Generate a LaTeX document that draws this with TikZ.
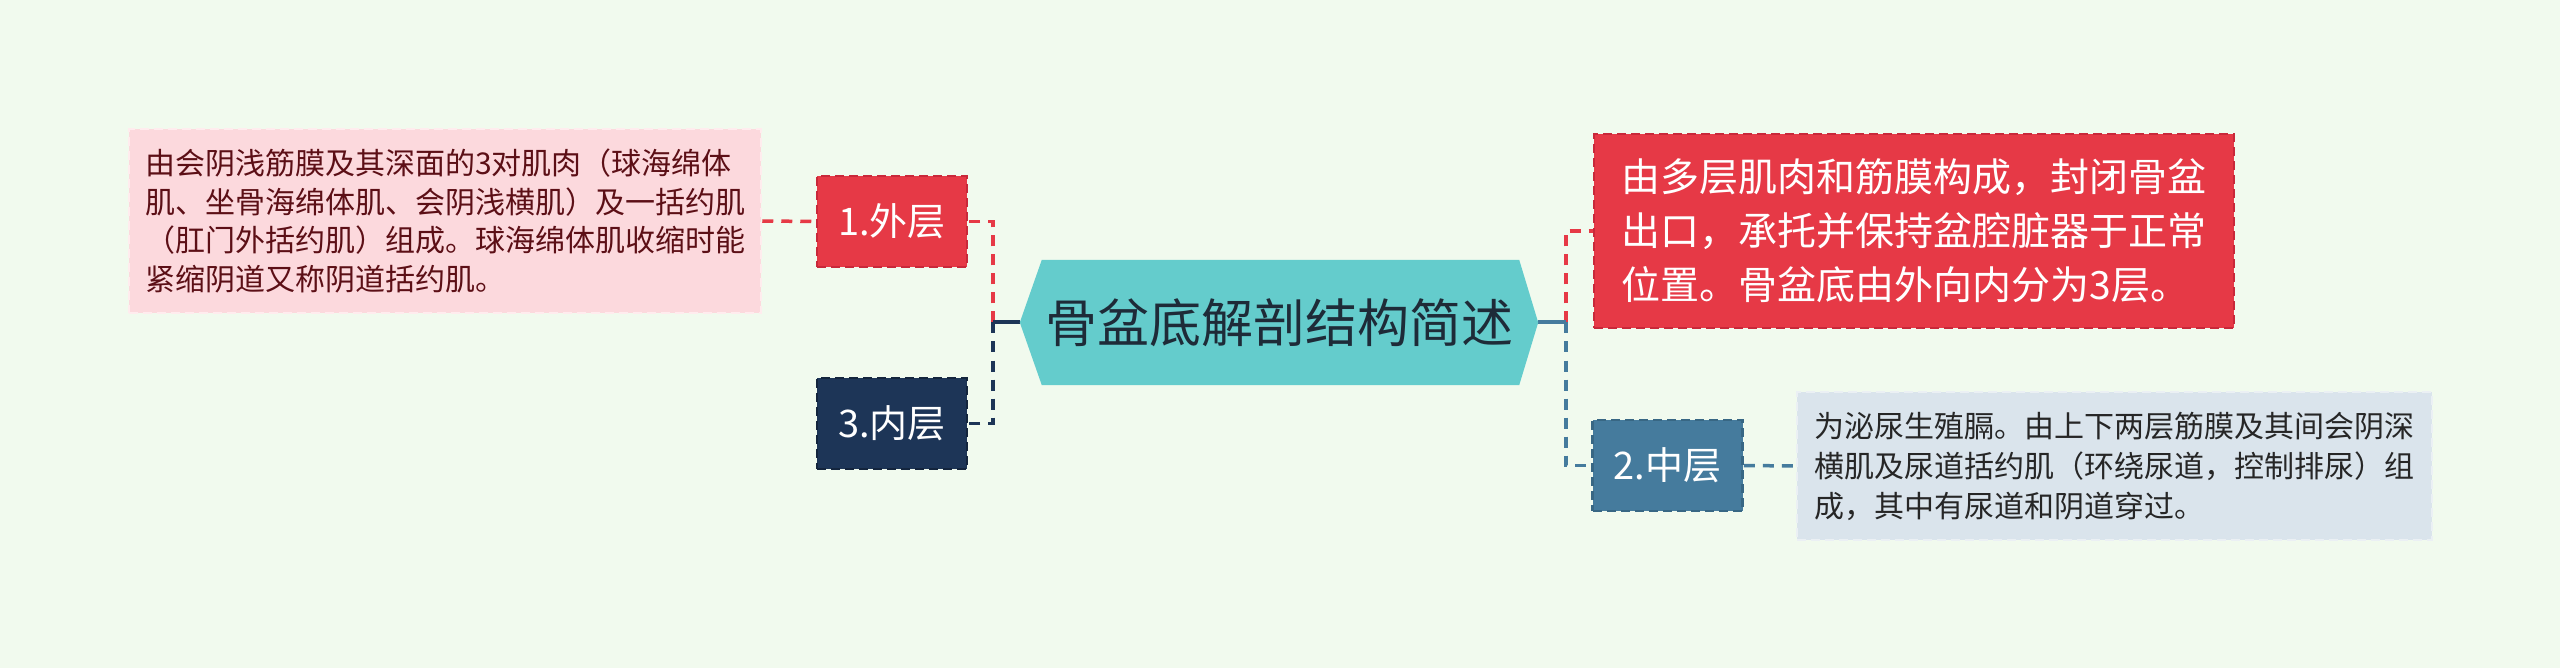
\documentclass[tikz,border=0pt]{standalone}
\usepackage{fontspec}
\setmainfont{Noto Sans CJK SC}
\usetikzlibrary{backgrounds}
\definecolor{bgc}{HTML}{F1FAEE}
\definecolor{redc}{HTML}{E63946}
\definecolor{redd}{HTML}{C9283A}
\definecolor{navyc}{HTML}{1D3557}
\definecolor{navyd}{HTML}{14253D}
\definecolor{steelc}{HTML}{457B9D}
\definecolor{steeld}{HTML}{386784}
\definecolor{tealc}{HTML}{64CCCC}
\definecolor{pinkc}{HTML}{FCD9DD}
\definecolor{pinkd}{HTML}{FFECEE}
\definecolor{pinktext}{HTML}{5C0F16}
\definecolor{paleblue}{HTML}{DAE4EC}
\definecolor{palebd}{HTML}{EBF0F4}
\definecolor{roottext}{HTML}{1E2B38}
\tikzset{
  boxbase/.style={rectangle, line width=2.5pt, dash pattern=on 9pt off 5pt, inner sep=0pt, align=left},
  labelbox/.style={boxbase, minimum width=150pt, minimum height=91pt, text=white, font=\fontsize{38}{46}\selectfont},
  conn/.style={line width=3.5pt, dash pattern=on 11pt off 8pt},
  stem/.style={line width=4pt},
}
\begin{document}
\begin{tikzpicture}[x=1pt,y=-1pt]
\useasboundingbox (0,0) rectangle (2560,668);
\begin{scope}[on background layer]
\fill[bgc] (0,0) rectangle (2560,668);
\end{scope}
% nodes
\node[boxbase, fill=pinkc, draw=pinkd, text=pinktext, minimum width=632pt, minimum height=184pt,
      font=\fontsize{30}{38.5}\selectfont] (pink) at (445,221)
  {由会阴浅筋膜及其深面的3对肌肉（球海绵体\\肌、坐骨海绵体肌、会阴浅横肌）及一括约肌\\（肛门外括约肌）组成。球海绵体肌收缩时能\\紧缩阴道又称阴道括约肌。};
\node[labelbox, fill=redc, draw=redd] (outer) at (892,221.5) {1.外层};
\node[labelbox, fill=navyc, draw=navyd] (inner) at (892,423.5) {3.内层};
\node[inner sep=0pt, minimum width=518pt, minimum height=125pt, text=roottext,
      font=\fontsize{52}{60}\selectfont] (root) at (1279,322.5) {骨盆底解剖结构简述};
\node[boxbase, fill=redc, draw=redd, text=white, minimum width=640pt, minimum height=194pt,
      font=\fontsize{39}{54}\selectfont] (redbox) at (1914,231)
  {由多层肌肉和筋膜构成，封闭骨盆\\出口，承托并保持盆腔脏器于正常\\位置。骨盆底由外向内分为3层。};
\node[labelbox, fill=steelc, draw=steeld] (middle) at (1667.5,465.5) {2.中层};
\node[boxbase, fill=paleblue, draw=palebd, text=black!85, minimum width=635pt, minimum height=148pt,
      font=\fontsize{30}{40}\selectfont] (bluebox) at (2114.5,466)
  {为泌尿生殖膈。由上下两层筋膜及其间会阴深\\横肌及尿道括约肌（环绕尿道，控制排尿）组\\成，其中有尿道和阴道穿过。};
\coordinate (lhub) at (993,322.5);
\coordinate (rhub) at (1566,322.5);
\begin{scope}[on background layer]
\draw[conn, redc] (lhub) |- (outer.east);
\draw[conn, navyc] (lhub) |- (inner.east);
\draw[conn, redc] (pink.east) -- (outer.west);
\draw[stem, navyc] (root.west) -- (lhub);
\draw[conn, redc] (rhub) |- (redbox.west);
\draw[conn, steelc] (rhub) |- (middle.west);
\draw[stem, steelc] (root.east) -- (rhub);
\draw[conn, steelc] (middle.east) -- (bluebox.west);
\fill[tealc] (root.west) -- ([xshift=22pt]root.north west) -- ([xshift=-19pt]root.north east)
  -- (root.east) -- ([xshift=-19pt]root.south east) -- ([xshift=22pt]root.south west) -- cycle;
\end{scope}
\end{tikzpicture}
\end{document}
